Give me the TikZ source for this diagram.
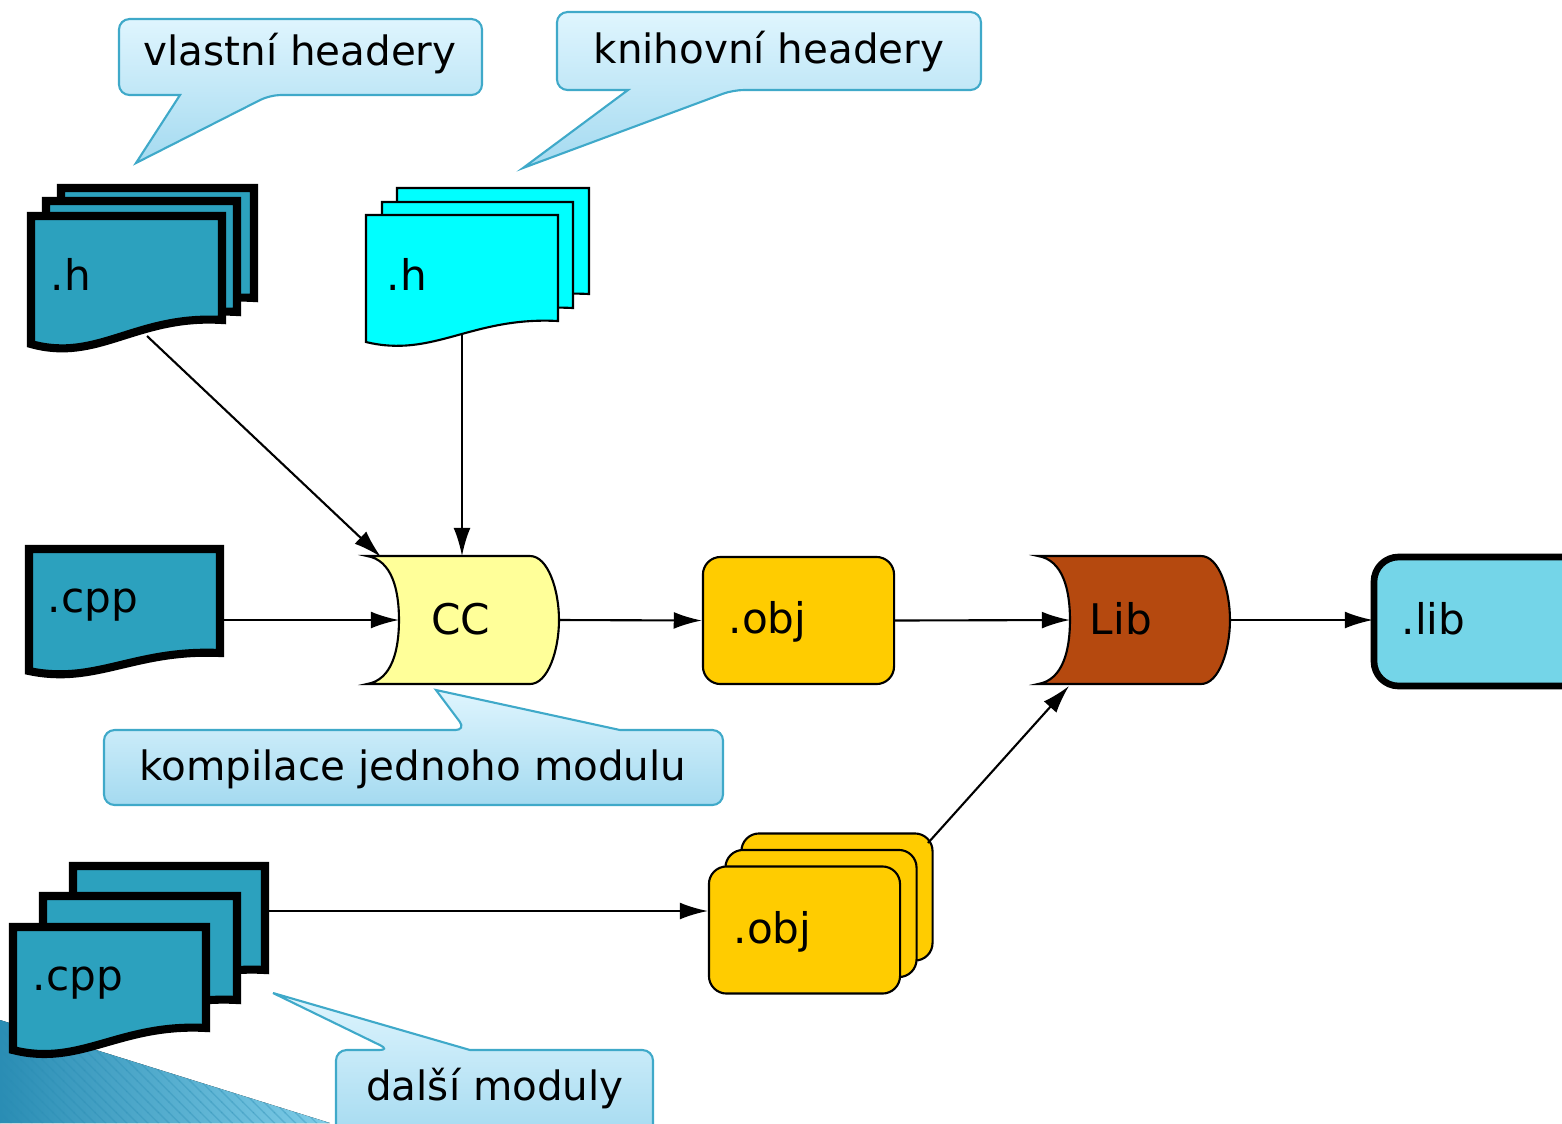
\documentclass[tikz,border=0pt]{standalone}
\usepackage{fontspec}
\setmainfont{DejaVu Sans}
\usepackage{tikz}
\usetikzlibrary{arrows.meta, calc, patterns}
\definecolor{sheetteal}{HTML}{2CA1BE}
\definecolor{sheetcyan}{HTML}{00FFFF}
\definecolor{ccyellow}{HTML}{FFFF99}
\definecolor{objgold}{HTML}{FFCC00}
\definecolor{librust}{HTML}{B5490F}
\definecolor{outsky}{HTML}{74D5E8}
\definecolor{bubbletop}{HTML}{DFF5FE}
\definecolor{bubblebottom}{HTML}{A4DAF0}
\definecolor{bubbleline}{HTML}{3FA9C9}
\definecolor{cornerdark}{HTML}{2A8DB4}
\definecolor{cornerlight}{HTML}{7FCDE8}

% sheet with a wavy bottom: left, top, right, bottom at right, bottom at left
\newcommand{\sheetpath}[5]{(#1,#2) -- (#3,#2) -- (#3,#4) .. controls ({#1+0.55*(#3-#1)},{#5-1.22*(#5-#4)}) and ({#1+0.35*(#3-#1)},{#5+0.78*(#5-#4)}) .. (#1,#5) -- cycle}
% drum with a hollow left side: left, right, top, bottom
\newcommand{\drumpath}[4]{(#1,#3) -- ({#2-29},#3) .. controls ({#2-11},#3) and (#2,{#3+34}) .. (#2,{(#3+#4)/2}) .. controls (#2,{#4-34}) and ({#2-11},#4) .. ({#2-29},#4) -- (#1,#4) .. controls ({#1+25},{#4-4}) and ({#1+32},{#4-34}) .. ({#1+32},{(#3+#4)/2}) .. controls ({#1+32},{#3+34}) and ({#1+25},{#3+4}) .. (#1,#3) -- cycle}

\begin{document}
\begin{tikzpicture}[x=0.01cm, y=-0.01cm,
  sheet/.style={fill=sheetteal, draw=black, line width=2.3pt},
  thinsheet/.style={fill=sheetcyan, draw=black, line width=0.6pt},
  lbl/.style={font=\fontsize{12}{14}\selectfont, inner sep=0pt},
  note/.style={font=\fontsize{11.5}{14}\selectfont, inner sep=0pt},
  conn/.style={draw=black, line width=0.6pt, -{Latex[length=8pt, width=4.8pt]}},
  bubble/.style={top color=bubbletop, bottom color=bubblebottom, draw=bubbleline, line width=0.6pt},
  objbox/.style={fill=objgold, draw=black, line width=0.6pt, rounded corners=5pt, minimum width=1.91cm, minimum height=1.27cm, inner sep=0pt}]
  \useasboundingbox (0,0) rectangle (1562,1123);
  \clip (0,0) rectangle (1562,1123);

  % corner decoration
  \fill[left color=cornerdark, right color=cornerlight] (0,1020) -- (330,1123) -- (0,1123) -- cycle;
  \fill[pattern=north west lines, pattern color=cornerdark, opacity=0.35] (0,1020) -- (330,1123) -- (0,1123) -- cycle;

  % callouts
  \path[bubble, rounded corners=3pt] (119,19) -- (482,19) -- (482,95) -- (270,95) [sharp corners] -- (136,163) -- (180,95) [rounded corners=3pt] -- (119,95) -- cycle;
  \node[note, anchor=base] (own-note) at (300,65) {vlastní headery};
  \path[bubble, rounded corners=3pt] (557,12) -- (981,12) -- (981,90) -- (733,90) [sharp corners] -- (523,168) -- (628,90) [rounded corners=3pt] -- (557,90) -- cycle;
  \node[note, anchor=base] (lib-note) at (769,63) {knihovní headery};
  \path[bubble, rounded corners=3pt] (104,730) -- (466,730) [sharp corners] -- (436,690) -- (620,730) [rounded corners=3pt] -- (723,730) -- (723,805) -- (104,805) -- cycle;
  \node[note, anchor=base] (cc-note) at (413,780) {kompilace jednoho modulu};
  \path[bubble, rounded corners=3pt] (336,1050) -- (390,1050) [sharp corners] -- (273,993) -- (470,1050) [rounded corners=3pt] -- (653,1050) -- (653,1140) -- (336,1140) -- cycle;
  \node[note, anchor=base] (more-note) at (495,1100) {další moduly};

  % own headers
  \draw[sheet] \sheetpath{61}{188}{254}{298}{322};
  \draw[sheet] \sheetpath{46}{201}{237}{312}{336};
  \draw[sheet] \sheetpath{31}{216}{222}{320}{344};
  \node[lbl, anchor=base west] (own-h) at (50,290) {.h};

  % library headers
  \draw[thinsheet] \sheetpath{397}{188}{589}{294}{315};
  \draw[thinsheet] \sheetpath{382}{202}{573}{308}{329};
  \draw[thinsheet] \sheetpath{366}{215}{558}{321}{342};
  \node[lbl, anchor=base west] (lib-h) at (386,290) {.h};

  % one module
  \draw[sheet] \sheetpath{29}{549}{220}{653}{671};
  \node[lbl, anchor=base west] (one-cpp) at (47,612) {.cpp};

  \draw[fill=ccyellow, draw=black, line width=0.6pt] \drumpath{367}{559}{556}{684};
  \node[lbl, anchor=base] (cc) at (461,634) {CC};

  \node[objbox] (obj) at (798.5,620.5) {};
  \node[lbl, anchor=base west] (obj-lbl) at (728,633) {.obj};

  \draw[fill=librust, draw=black, line width=0.6pt] \drumpath{1038}{1230}{556}{684};
  \node[lbl, anchor=base] (lib) at (1121,634) {Lib};

  \draw[fill=outsky, draw=black, line width=1.9pt, rounded corners=7pt] (1374,557) rectangle (1600,686);
  \node[lbl, anchor=base west] (out-lib) at (1401,634) {.lib};

  % other modules
  \draw[sheet] \sheetpath{73}{866}{265}{970}{992};
  \draw[sheet] \sheetpath{43}{896}{237}{1000}{1022};
  \draw[sheet] \sheetpath{13}{927}{206}{1028}{1050};
  \node[lbl, anchor=base west] (more-cpp) at (32,990) {.cpp};

  \node[objbox] (obj-c) at (837,897) {};
  \node[objbox] (obj-b) at (821,913.5) {};
  \node[objbox] (obj-a) at (804.5,930) {};
  \node[lbl, anchor=base west] (more-obj) at (733,943) {.obj};

  % connection points
  \coordinate (own-h-out) at (147,336);
  \coordinate (lib-h-out) at (462,333);
  \coordinate (one-cpp-out) at (222,620);
  \coordinate (more-cpp-out) at (267,911);
  \coordinate (obj-a-in) at (708,911);
  \coordinate (cc-nw) at (381,557);
  \coordinate (cc-n) at (462,556);
  \coordinate (cc-w) at (399,620);
  \coordinate (cc-e) at (559,620);
  \coordinate (lib-w) at (1070,620);
  \coordinate (lib-e) at (1230,620);
  \coordinate (lib-sw) at (1069,686);
  \coordinate (out-lib-w) at (1373,620);
  \coordinate (obj-c-ne) at (928,843);

  \draw[conn] (own-h-out) -- (cc-nw);
  \draw[conn] (lib-h-out) -- (cc-n);
  \draw[conn] (one-cpp-out) -- (cc-w);
  \draw[conn] (cc-e) -- (obj.west);
  \draw[conn] (obj.east) -- (lib-w);
  \draw[conn] (lib-e) -- (out-lib-w);
  \draw[conn] (more-cpp-out) -- (obj-a-in);
  \draw[conn] (obj-c-ne) -- (lib-sw);
\end{tikzpicture}
\end{document}
